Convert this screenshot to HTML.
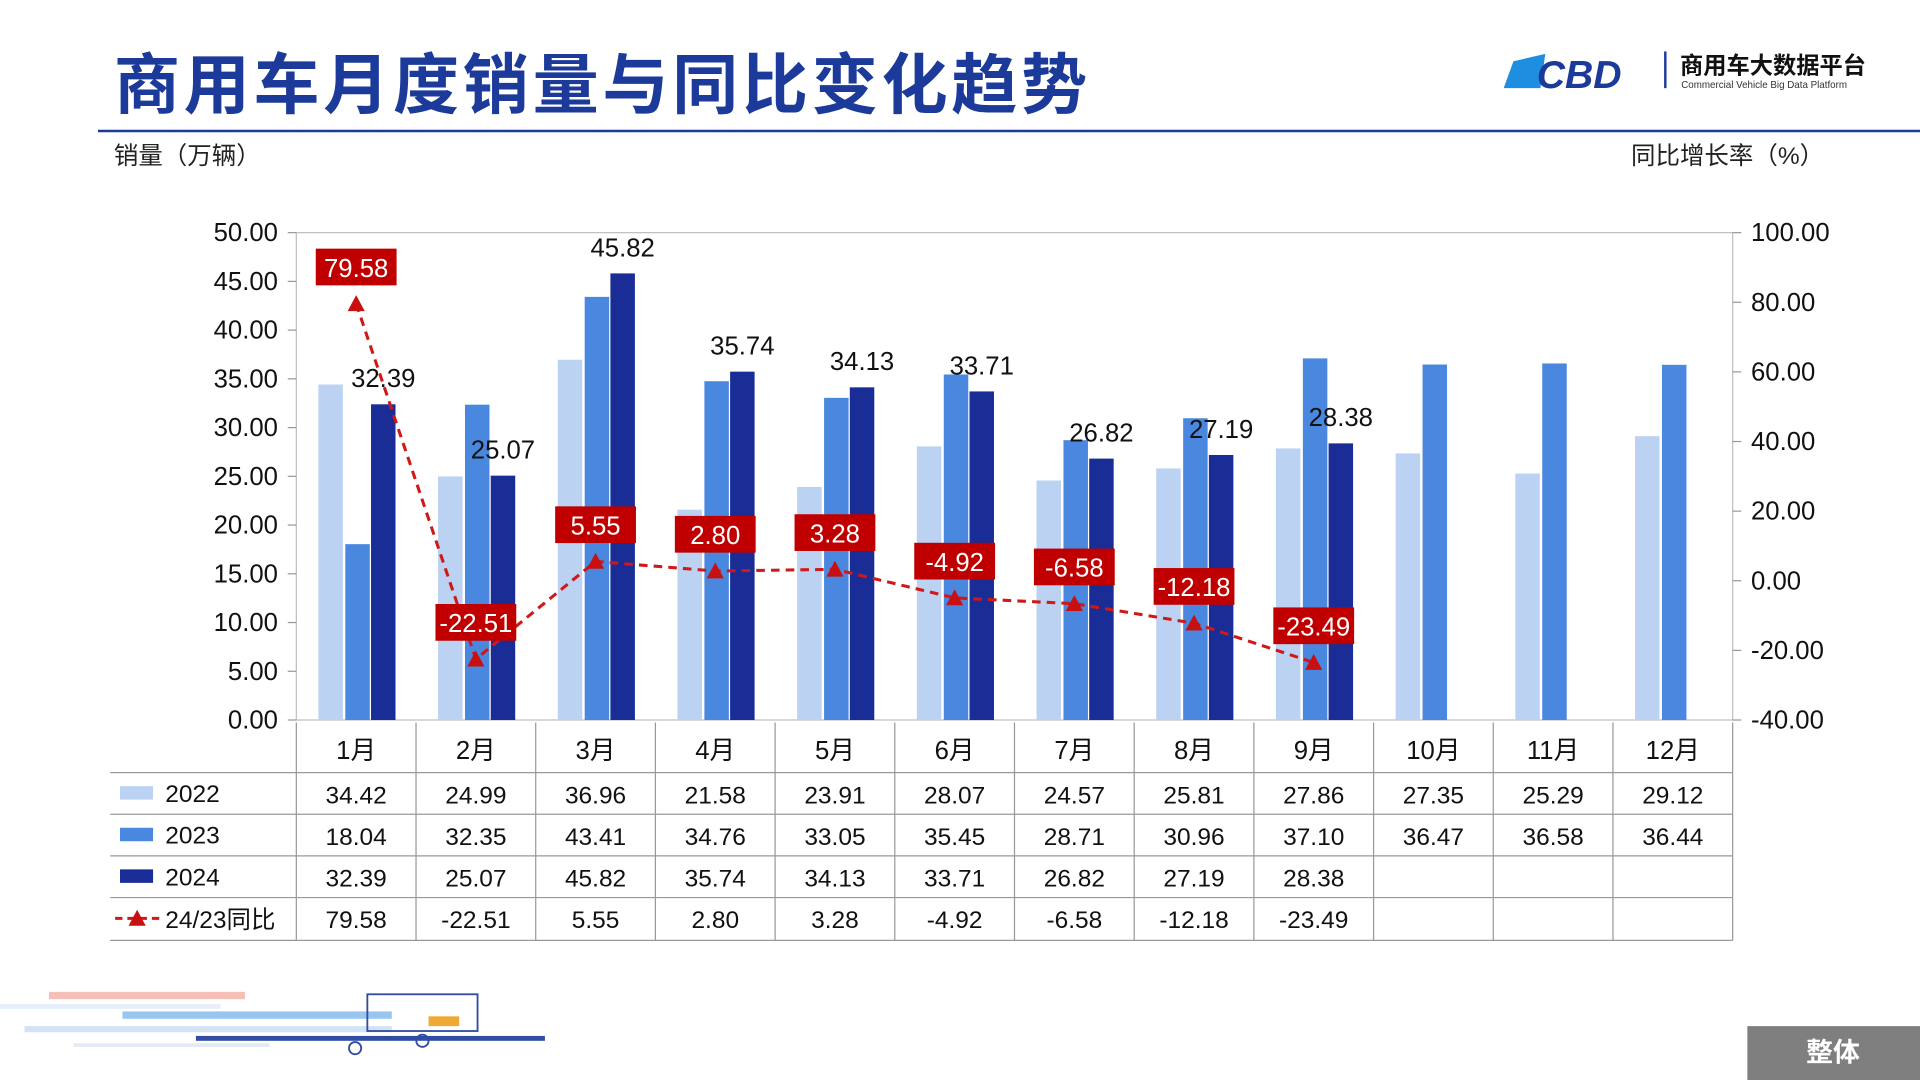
<!DOCTYPE html>
<html><head><meta charset="utf-8">
<style>
html,body{margin:0;padding:0;background:#fff;overflow:hidden}
svg{display:block}
text{font-family:"Liberation Sans","Noto Sans CJK SC",sans-serif}
</style></head>
<body>
<svg id="s" width="1920" height="1080" viewBox="0 0 1568 882" xmlns="http://www.w3.org/2000/svg">
<rect width="1568" height="882" fill="#fff"/>
<text x="93" y="88" font-size="54" font-weight="bold" fill="#1b3a9a" style="font-family:'Noto Sans CJK SC',sans-serif" letter-spacing="3">商用车月度销量与同比变化趋势</text>
<line x1="80" y1="107" x2="1568" y2="107" stroke="#1b3a9a" stroke-width="2"/>
<g>
<path d="M1228 72 L1236 50 L1262 44 L1258 72 Z" fill="#1e8fe0"/>
<text x="1255" y="72" font-size="32" font-weight="bold" font-style="italic" fill="#1b3a9a">CBD</text>
<line x1="1360" y1="42" x2="1360" y2="72" stroke="#1b3a9a" stroke-width="2"/>
<text x="1372" y="60" font-size="19" font-weight="bold" fill="#111" style="font-family:'Noto Sans CJK SC',sans-serif">商用车大数据平台</text>
<text x="1373" y="72" font-size="8" fill="#333">Commercial Vehicle Big Data Platform</text>
</g>
<text x="93" y="134" font-size="20" fill="#222">销量（万辆）</text>
<text x="1332" y="134" font-size="20" fill="#222">同比增长率（%）</text>
<g id="chart"></g>
<g opacity="0.9">
<rect x="0" y="820" width="180" height="4" fill="#e6eef8"/>
<rect x="40" y="810" width="160" height="6" fill="#f4b8b0"/>
<rect x="100" y="826" width="220" height="6" fill="#8fc0f0"/>
<rect x="20" y="838" width="300" height="5" fill="#cde0f5"/>
<rect x="160" y="846" width="285" height="4" fill="#1b3a9a"/>
<rect x="60" y="852" width="160" height="3" fill="#e0e8f2"/>
<rect x="300" y="812" width="90" height="30" fill="none" stroke="#1b3a9a" stroke-width="1.5"/>
<circle cx="290" cy="856" r="5" fill="none" stroke="#1b3a9a" stroke-width="1.5"/>
<circle cx="345" cy="850" r="5" fill="none" stroke="#1b3a9a" stroke-width="1.5"/>
<rect x="350" y="830" width="25" height="8" fill="#f0a020"/>
</g>
<rect x="1427" y="838" width="141" height="44" fill="#7f7f7f"/>
<text x="1497" y="867" font-size="22" font-weight="bold" fill="#fff" text-anchor="middle" style="font-family:'Noto Sans CJK SC',sans-serif">整体</text>
</svg>
<script>
var d22=[34.42,24.99,36.96,21.58,23.91,28.07,24.57,25.81,27.86,27.35,25.29,29.12];
var d23=[18.04,32.35,43.41,34.76,33.05,35.45,28.71,30.96,37.10,36.47,36.58,36.44];
var d24=[32.39,25.07,45.82,35.74,34.13,33.71,26.82,27.19,28.38];
var yy=[79.58,-22.51,5.55,2.80,3.28,-4.92,-6.58,-12.18,-23.49];
var X0=242,X1=1415,Y0=588,Y1=190,cw=(X1-X0)/12,k=(Y0-Y1)/50;
var ry=function(v){return Y1+(100-v)*(Y0-Y1)/140};
var h='';
h+='<rect x="'+X0+'" y="'+Y1+'" width="'+(X1-X0)+'" height="'+(Y0-Y1)+'" fill="none" stroke="#bfbfbf"/>';
for(var i=0;i<=10;i++){var v=i*5,y=Y0-v*k;h+='<text x="227" y="'+(y+7)+'" font-size="21" fill="#111" text-anchor="end">'+v.toFixed(2)+'</text><line x1="235" x2="242" y1="'+y+'" y2="'+y+'" stroke="#999"/>';}
for(var i=0;i<=7;i++){var v=100-i*20,y=ry(v);h+='<text x="1430" y="'+(y+7)+'" font-size="21" fill="#111">'+v.toFixed(2)+'</text><line x1="1415" x2="1422" y1="'+y+'" y2="'+y+'" stroke="#999"/>';}
function bar(x,v,c){return '<rect x="'+x+'" y="'+(Y0-v*k)+'" width="20" height="'+(v*k)+'" fill="'+c+'"/>';}
for(var m=0;m<12;m++){var c=X0+m*cw;
h+=bar(c+18,d22[m],'#bcd2f2');h+=bar(c+40,d23[m],'#4a87de');
if(m<9){h+=bar(c+61,d24[m],'#1a2d96');h+='<text x="'+(c+71)+'" y="'+(Y0-d24[m]*k-14)+'" font-size="21" fill="#111" text-anchor="middle">'+d24[m].toFixed(2)+'</text>';}}
var pts=[];for(var m=0;m<9;m++)pts.push((X0+m*cw+cw/2)+','+ry(yy[m]));
h+='<polyline points="'+pts.join(' ')+'" fill="none" stroke="#d01818" stroke-width="2.5" stroke-dasharray="7,5"/>';
for(var m=0;m<9;m++){var x=X0+m*cw+cw/2,y=ry(yy[m]);
h+='<path d="M'+(x-7)+','+(y+6)+' L'+x+','+(y-7)+' L'+(x+7)+','+(y+6)+'Z" fill="#c81010"/>';
h+='<rect x="'+(x-33)+'" y="'+(y-45)+'" width="66" height="30" fill="#c00000"/><text x="'+x+'" y="'+(y-22)+'" font-size="21" fill="#fff" text-anchor="middle">'+yy[m].toFixed(2)+'</text>';}
var rows=[590,631,665,699,733,768];
h+='<line x1="90" x2="1415" y1="631" y2="631" stroke="#999"/>';
for(var r=2;r<6;r++)h+='<line x1="90" x2="1415" y1="'+rows[r]+'" y2="'+rows[r]+'" stroke="#999"/>';
for(var m=0;m<=12;m++){var x=X0+m*cw;h+='<line x1="'+x+'" x2="'+x+'" y1="590" y2="768" stroke="#999"/>';}
for(var m=0;m<12;m++){var x=X0+m*cw+cw/2;h+='<text x="'+x+'" y="620" font-size="21" fill="#111" text-anchor="middle">'+(m+1)+'月</text>';
h+='<text x="'+x+'" y="656" font-size="20" fill="#111" text-anchor="middle">'+d22[m].toFixed(2)+'</text>';
h+='<text x="'+x+'" y="690" font-size="20" fill="#111" text-anchor="middle">'+d23[m].toFixed(2)+'</text>';
if(m<9){h+='<text x="'+x+'" y="724" font-size="20" fill="#111" text-anchor="middle">'+d24[m].toFixed(2)+'</text>';
h+='<text x="'+x+'" y="758" font-size="20" fill="#111" text-anchor="middle">'+yy[m].toFixed(2)+'</text>';}}
var lc=['#bcd2f2','#4a87de','#1a2d96'],ln=['2022','2023','2024'];
for(var r=0;r<3;r++){var y=rows[r+1]+17;h+='<rect x="98" y="'+(y-6)+'" width="27" height="11" fill="'+lc[r]+'"/><text x="135" y="'+(y+7)+'" font-size="20" fill="#111">'+ln[r]+'</text>';}
h+='<line x1="94" x2="130" y1="750" y2="750" stroke="#d01818" stroke-width="2.5" stroke-dasharray="6,4"/><path d="M105,756 L112,743 L119,756Z" fill="#c81010"/><text x="135" y="758" font-size="20" fill="#111">24/23同比</text>';
document.getElementById('chart').innerHTML=h;
</script>
</body></html>
